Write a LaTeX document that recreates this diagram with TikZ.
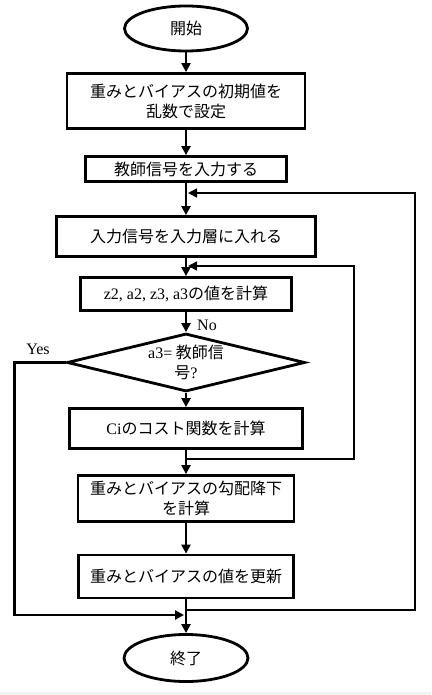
\documentclass[tikz,border=0pt]{standalone}
\usepackage{fontspec}
\setmainfont{Noto Sans CJK JP}
\newfontfamily\latin{Liberation Serif}
\usetikzlibrary{shapes.geometric,arrows.meta}

\begin{document}
\begin{tikzpicture}[x=1pt,y=-1pt,font=\fontsize{16}{20}\selectfont]
			\tikzstyle{terminal} = [ellipse, draw, line width=2.8pt, inner sep=0pt, minimum width=123pt, minimum height=45pt]
			\tikzstyle{process} = [draw, line width=2.8pt, inner sep=0pt, align=center]
			\tikzstyle{decision} = [diamond, draw, line width=2.8pt, inner sep=0pt, aspect=4, align=center]
			\tikzstyle{tag} = [inner sep=0pt, font=\fontsize{16}{20}\latin]
			\tikzset{edge/.style = {-{Triangle[length=9pt,width=9pt]}, line width=2.4pt}}
			\tikzset{loopline/.style = {edge, line width=1.7pt}}
			
			\useasboundingbox (0,0) rectangle (431,695);
			\fill[gray!10] (0,692) rectangle (431,695);
			
			\node[terminal](start) at (186,28.5) {開始};
			\node[process, minimum width=238pt, minimum height=55pt](init) at (186,101) {重みとバイアスの初期値を\\乱数で設定};
			\node[process, minimum width=201pt, minimum height=25pt](teach) at (186,169) {教師信号を入力する};
			\node[process, minimum width=259pt, minimum height=40pt](input) at (186,236.5) {入力信号を入力層に入れる};
			\node[process, minimum width=211pt, minimum height=33pt](calc) at (186,294) {{\latin z2, a2, z3, a3}の値を計算};
			\node[decision, minimum width=238pt, minimum height=58pt](check) at (186,362.5) {{\latin a3=} 教師信\\号{\latin ?}};
			\node[process, minimum width=233pt, minimum height=40pt](cost) at (186,428.5) {{\latin Ci}のコスト関数を計算};
			\node[process, minimum width=216pt, minimum height=46pt](grad) at (186,498.5) {重みとバイアスの勾配降下\\を計算};
			\node[process, minimum width=215pt, minimum height=43pt](update) at (186,576.5) {重みとバイアスの値を更新};
			\node[terminal, minimum width=124pt, minimum height=47pt](stop) at (186,658) {終了};
			
			\draw[edge](start) to (init);
			\draw[edge](init) to (teach);
			\draw[edge](teach) to (input);
			\draw[edge](input) to (calc);
			\draw[edge](calc) to (check);
			\draw[edge](check) to (cost);
			\draw[edge](cost) to (grad);
			\draw[edge](grad) to (update);
			\draw[edge](update) to (stop);
			
			\node[tag](no) at (207,325) {No};
			\node[tag](yes) at (38,349) {Yes};
			
			\coordinate (outerfrom) at (186,610);
			\coordinate (outerto) at (188,193);
			\draw[loopline](outerfrom) -- ++(229,0) |- (outerto);
			
			\coordinate (innerfrom) at (186,459);
			\coordinate (innerto) at (188,266);
			\draw[loopline](innerfrom) -- ++(168,0) |- (innerto);
			
			\coordinate (yesto) at (184,615);
			\draw[edge](check.west) -- ++(-51,0) |- (yesto);
			
\end{tikzpicture}
\end{document}
